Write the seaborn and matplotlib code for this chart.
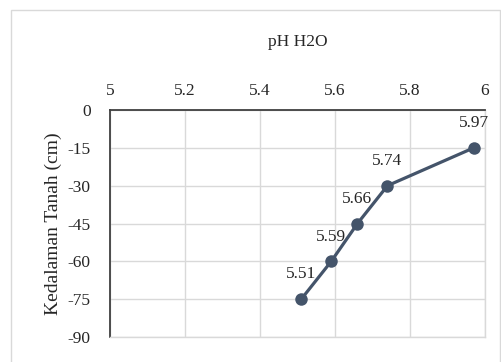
import matplotlib
matplotlib.use("Agg")
import matplotlib.pyplot as plt
from matplotlib.patches import Rectangle
import seaborn as sns
import pandas as pd

# Soil pH (H2O) measured at each depth
depth_cm = [-15, -30, -45, -60, -75]
ph_h2o = [5.97, 5.74, 5.66, 5.59, 5.51]
x_ticks = [5, 5.2, 5.4, 5.6, 5.8, 6]
y_ticks = [0, -15, -30, -45, -60, -75, -90]

df = pd.DataFrame({"pH": ph_h2o, "depth": depth_cm})

sns.set_theme(style="white")
plt.rcParams["font.family"] = ["Liberation Serif", "DejaVu Serif"]
plt.rcParams["axes.unicode_minus"] = False

line_color = "#44546a"
grid_color = "#d9d9d9"
text_color = "#262626"
fs = 12.5

fig = plt.figure(figsize=(5.02, 3.62), dpi=100)
ax = fig.add_axes([110 / 502, 1 - 337 / 362, 375 / 502, 227 / 362])

sns.lineplot(data=df, x="pH", y="depth", sort=False, ax=ax, color=line_color,
             linewidth=2.3, marker="o", markersize=9, markeredgewidth=0,
             markerfacecolor=line_color)

for xv, yv in zip(ph_h2o, depth_cm):
    ax.annotate(f"{xv:.2f}", (xv, yv), xytext=(0, 12), textcoords="offset points",
                ha="center", va="bottom", fontsize=fs, color=text_color)

ax.set_xlim(5, 6)
ax.set_ylim(-90, 0)
ax.set_xticks(x_ticks)
ax.set_xticklabels([f"{v:g}" for v in x_ticks])
ax.set_yticks(y_ticks)
ax.set_yticklabels([str(v) for v in y_ticks])
ax.xaxis.tick_top()
ax.tick_params(axis="both", length=0, labelsize=fs, colors=text_color)
ax.tick_params(axis="x", pad=8)
ax.tick_params(axis="y", pad=14)

ax.grid(True, color=grid_color, linewidth=1)
ax.set_axisbelow(True)
for side in ("right", "bottom"):
    ax.spines[side].set_color(grid_color)
    ax.spines[side].set_linewidth(1)
for side in ("left", "top"):
    ax.spines[side].set_color("#404040")
    ax.spines[side].set_linewidth(1.3)

ax.set_xlabel("")
ax.set_ylabel("Kedalaman Tanah (cm)", fontsize=14, color=text_color, labelpad=4)
fig.text(297.5 / 502, 1 - 42 / 362, "pH H2O", ha="center", va="center",
         fontsize=fs, color=text_color)

# chart area frame
fig.patches.append(Rectangle((11 / 502, -0.05), 489 / 502, 1 - 10 / 362 + 0.05,
                             transform=fig.transFigure, fill=False,
                             edgecolor=grid_color, linewidth=1))

fig.savefig("out.png", dpi=100, facecolor="white")
